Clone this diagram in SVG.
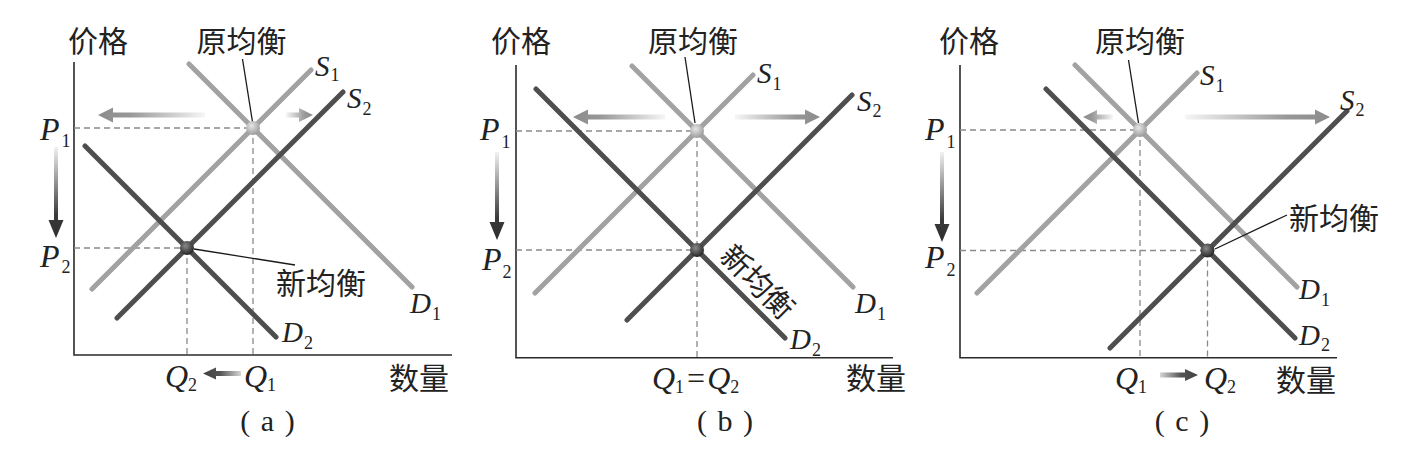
<svg xmlns="http://www.w3.org/2000/svg" width="1419" height="456" viewBox="0 0 1419 456">
<style>
.bg{fill:#ffffff}
.ax{stroke:#2a2a2a;stroke-width:1.6;fill:none}
.ds{stroke:#8a8a8a;stroke-width:1.3;stroke-dasharray:6 4;fill:none}
.lt{stroke:#a2a2a2;stroke-width:5;stroke-linecap:round;fill:none}
.dk{stroke:#4e4e4e;stroke-width:5;stroke-linecap:round;fill:none}
.ld{stroke:#1a1a1a;stroke-width:1.3;fill:none}
.cjk{font-family:"Noto Sans CJK SC","Noto Sans CJK TC",sans-serif;font-size:30px;fill:#222}
.it{font-family:"Liberation Serif",serif;font-style:italic;font-size:32px;fill:#222}
.it2{font-family:"Liberation Serif",serif;font-style:italic;font-size:29px;fill:#222}
.sb{font-style:normal;font-size:18px}
.cap{font-family:"Liberation Serif",serif;font-size:30px;fill:#222}
</style>
<defs>
<linearGradient id="gLL" x1="0" y1="0" x2="1" y2="0"><stop offset="0" stop-color="#8c8c8c"/><stop offset="0.3" stop-color="#989898"/><stop offset="1" stop-color="#f6f6f6"/></linearGradient>
<linearGradient id="gLR" x1="1" y1="0" x2="0" y2="0"><stop offset="0" stop-color="#8c8c8c"/><stop offset="0.3" stop-color="#989898"/><stop offset="1" stop-color="#f6f6f6"/></linearGradient>
<linearGradient id="gDD" x1="0" y1="1" x2="0" y2="0"><stop offset="0" stop-color="#2e2e2e"/><stop offset="0.25" stop-color="#3a3a3a"/><stop offset="1" stop-color="#f2f2f2"/></linearGradient>
<linearGradient id="gQL" x1="0" y1="0" x2="1" y2="0"><stop offset="0" stop-color="#404040"/><stop offset="0.45" stop-color="#555"/><stop offset="1" stop-color="#d6d6d6"/></linearGradient>
<linearGradient id="gQR" x1="1" y1="0" x2="0" y2="0"><stop offset="0" stop-color="#404040"/><stop offset="0.45" stop-color="#555"/><stop offset="1" stop-color="#d6d6d6"/></linearGradient>
<radialGradient id="gOld" cx="0.4" cy="0.35" r="0.65"><stop offset="0" stop-color="#e6e6e6"/><stop offset="1" stop-color="#9c9c9c"/></radialGradient>
<radialGradient id="gNew" cx="0.4" cy="0.35" r="0.65"><stop offset="0" stop-color="#8a8a8a"/><stop offset="1" stop-color="#262626"/></radialGradient>
</defs>
<rect class="bg" x="0" y="0" width="1419" height="456"/>

<!-- Panel (a) -->
<g id="panel-a">
  <g id="a-axes">
    <path class="ax" d="M74,62 V355 H452"/>
    <text class="cjk" x="68" y="52">价格</text>
    <text class="cjk" x="389" y="389">数量</text>
  </g>
  <g id="a-guides">
    <path class="ds" d="M74,128 H253 M253,128 V355 M74,248 H187 M187,248 V355"/>
  </g>
  <g id="a-curves">
    <line id="a-S1" class="lt" x1="92" y1="289" x2="311" y2="70"/>
    <line id="a-D1" class="lt" x1="189" y1="64" x2="412" y2="287"/>
    <line id="a-S2" class="dk" x1="117" y1="318" x2="343" y2="92"/>
    <line id="a-D2" class="dk" x1="85" y1="146" x2="276" y2="337"/>
  </g>
  <g id="a-shifts">
    <polygon fill="url(#gLL)" points="98,115 113,107.5 113,112.5 205,112.5 205,117.5 113,117.5 113,122.5"/>
    <polygon fill="url(#gLR)" points="313,115 299,108 299,112.5 286,112.5 286,117.5 299,117.5 299,122"/>
    <polygon fill="url(#gDD)" points="56,238 48.5,220 54,220 54,147 58,147 58,220 63.5,220"/>
    <polygon fill="url(#gQL)" points="203,373.5 216,367.5 216,371 241,371 241,376 216,376 216,379.5"/>
  </g>
  <g id="a-leaders">
    <line class="ld" x1="242.5" y1="59" x2="252.5" y2="122"/>
    <line class="ld" x1="194" y1="249" x2="295" y2="265"/>
  </g>
  <g id="a-old-eq"><circle cx="253" cy="128" r="7" fill="url(#gOld)"/><text class="cjk" x="241.5" y="52" text-anchor="middle">原均衡</text></g>
  <g id="a-new-eq"><circle cx="187" cy="248" r="7" fill="url(#gNew)"/><text class="cjk" x="276" y="294">新均衡</text></g>
  <g id="a-labels">
    <text class="it" x="40" y="140">P<tspan class="sb" dx="2" dy="7">1</tspan></text>
    <text class="it" x="40" y="267">P<tspan class="sb" dx="2" dy="6">2</tspan></text>
    <text class="it2" x="315" y="76">S<tspan class="sb" dx="1" dy="5">1</tspan></text>
    <text class="it2" x="347" y="108">S<tspan class="sb" dx="1" dy="7">2</tspan></text>
    <text class="it2" x="410" y="313">D<tspan class="sb" dx="1" dy="7">1</tspan></text>
    <text class="it2" x="282" y="342">D<tspan class="sb" dx="1" dy="7">2</tspan></text>
    <text class="it" x="165" y="387">Q<tspan class="sb" dx="0" dy="4">2</tspan></text>
    <text class="it" x="244" y="387">Q<tspan class="sb" dx="0" dy="4">1</tspan></text>
    <text class="cap" x="267.5" y="431" text-anchor="middle" word-spacing="3">( a )</text>
  </g>
</g>

<!-- Panel (b) -->
<g id="panel-b">
  <g id="b-axes">
    <path class="ax" d="M516,65 V357.7 H893"/>
    <text class="cjk" x="491" y="52">价格</text>
    <text class="cjk" x="846" y="389">数量</text>
  </g>
  <g id="b-guides">
    <path class="ds" d="M516,131 H697 M697,131 V357.7 M516,250 H697"/>
  </g>
  <g id="b-curves">
    <line id="b-S1" class="lt" x1="535" y1="293" x2="753" y2="75"/>
    <line id="b-D1" class="lt" x1="632" y1="66" x2="853" y2="287"/>
    <line id="b-S2" class="dk" x1="627" y1="320" x2="852" y2="95"/>
    <line id="b-D2" class="dk" x1="536" y1="89" x2="785" y2="338"/>
  </g>
  <g id="b-shifts">
    <polygon fill="url(#gLL)" points="573,117 588,109.5 588,114.5 665,114.5 665,119.5 588,119.5 588,124.5"/>
    <polygon fill="url(#gLR)" points="820,117 805,109.5 805,114.5 735,114.5 735,119.5 805,119.5 805,124.5"/>
    <polygon fill="url(#gDD)" points="497,240 489.5,222 495,222 495,152 499,152 499,222 504.5,222"/>
  </g>
  <g id="b-leaders">
    <line class="ld" x1="685" y1="57" x2="695" y2="123"/>
  </g>
  <g id="b-old-eq"><circle cx="697" cy="131" r="7" fill="url(#gOld)"/><text class="cjk" x="693" y="52" text-anchor="middle">原均衡</text></g>
  <g id="b-new-eq"><circle cx="697" cy="250" r="7" fill="url(#gNew)"/><text class="cjk" text-anchor="middle" transform="translate(750,289.5) rotate(45)">新均衡</text></g>
  <g id="b-labels">
    <text class="it" x="480" y="140">P<tspan class="sb" dx="2" dy="8">1</tspan></text>
    <text class="it" x="482" y="270">P<tspan class="sb" dx="1" dy="8">2</tspan></text>
    <text class="it2" x="757" y="83">S<tspan class="sb" dx="1" dy="7">1</tspan></text>
    <text class="it2" x="857" y="110.5">S<tspan class="sb" dx="1" dy="6">2</tspan></text>
    <text class="it2" x="855" y="313">D<tspan class="sb" dx="1" dy="7">1</tspan></text>
    <text class="it2" x="790" y="349">D<tspan class="sb" dx="1" dy="7">2</tspan></text>
    <text class="it" x="652" y="389">Q<tspan class="sb" dx="0" dy="4">1</tspan><tspan dx="3" dy="-4" style="font-style:normal">=</tspan><tspan dx="2">Q</tspan><tspan class="sb" dx="0" dy="4">2</tspan></text>
    <text class="cap" x="725" y="431" text-anchor="middle" word-spacing="3">( b )</text>
  </g>
</g>

<!-- Panel (c) -->
<g id="panel-c">
  <g id="c-axes">
    <path class="ax" d="M960,65 V357.7 H1337"/>
    <text class="cjk" x="939" y="52">价格</text>
    <text class="cjk" x="1276" y="391">数量</text>
  </g>
  <g id="c-guides">
    <path class="ds" d="M960,130 H1140 M1140,130 V357.7 M960,250.5 H1207.5 M1207.5,250.5 V357.7"/>
  </g>
  <g id="c-curves">
    <line id="c-S1" class="lt" x1="977" y1="293" x2="1197" y2="73"/>
    <line id="c-D1" class="lt" x1="1075" y1="65" x2="1297" y2="287"/>
    <line id="c-S2" class="dk" x1="1110" y1="348" x2="1347" y2="111"/>
    <line id="c-D2" class="dk" x1="1046" y1="89" x2="1295" y2="338"/>
  </g>
  <g id="c-shifts">
    <polygon fill="url(#gLL)" points="1083,117 1097,110 1097,114.5 1113,114.5 1113,119.5 1097,119.5 1097,124"/>
    <polygon fill="url(#gLR)" points="1330,117 1315,109.5 1315,114.5 1185,114.5 1185,119.5 1315,119.5 1315,124.5"/>
    <polygon fill="url(#gDD)" points="942,242 934.5,224 940,224 940,152 944,152 944,224 949.5,224"/>
    <polygon fill="url(#gQR)" points="1198,375 1185,369 1185,372.5 1160,372.5 1160,377.5 1185,377.5 1185,381"/>
  </g>
  <g id="c-leaders">
    <line class="ld" x1="1128.5" y1="60" x2="1138.5" y2="123"/>
    <line class="ld" x1="1215" y1="249" x2="1287" y2="215"/>
  </g>
  <g id="c-old-eq"><circle cx="1140" cy="130" r="7" fill="url(#gOld)"/><text class="cjk" x="1140" y="52" text-anchor="middle">原均衡</text></g>
  <g id="c-new-eq"><circle cx="1207.5" cy="250.5" r="7" fill="url(#gNew)"/><text class="cjk" x="1289" y="229">新均衡</text></g>
  <g id="c-labels">
    <text class="it" x="925" y="140">P<tspan class="sb" dx="2" dy="8">1</tspan></text>
    <text class="it" x="925" y="268">P<tspan class="sb" dx="2" dy="8">2</tspan></text>
    <text class="it2" x="1200" y="85">S<tspan class="sb" dx="1" dy="7">1</tspan></text>
    <text class="it2" x="1340" y="110">S<tspan class="sb" dx="1" dy="6">2</tspan></text>
    <text class="it2" x="1299" y="299">D<tspan class="sb" dx="1" dy="7">1</tspan></text>
    <text class="it2" x="1299" y="345">D<tspan class="sb" dx="1" dy="6">2</tspan></text>
    <text class="it" x="1115" y="389">Q<tspan class="sb" dx="0" dy="4">1</tspan></text>
    <text class="it" x="1204" y="389">Q<tspan class="sb" dx="0" dy="4">2</tspan></text>
    <text class="cap" x="1182" y="431" text-anchor="middle" word-spacing="3">( c )</text>
  </g>
</g>
</svg>
